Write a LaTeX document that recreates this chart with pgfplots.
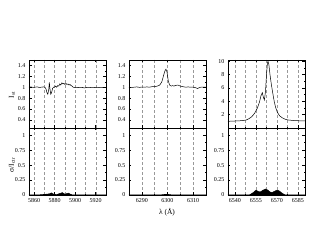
\documentclass[border=0pt]{standalone}
\usepackage{fontspec}
\setmainfont{Liberation Serif}
\usepackage{pgfplots}
\pgfplotsset{compat=1.18}
\pgfplotsset{
  panel/.style={
    scale only axis, width=77pt,
    axis line style={line width=0.8pt},
    tick align=inside, xtick pos=both, ytick pos=both,
    major tick length=2.5pt, minor tick length=1.3pt,
    every tick/.style={black, line width=0.5pt},
    xmajorgrids, xminorgrids,
    major grid style={densely dashed, gray!80, line width=0.35pt},
    minor grid style={densely dashed, gray!80, line width=0.35pt},
    tick label style={font=\fontsize{6}{7}\selectfont},
    /pgf/number format/assume math mode=true,
    /pgf/number format/1000 sep={},
    scaled ticks=false,
    minor y tick num=1,
  },
  toppanel/.style={panel, height=68pt, xticklabels={}},
  botpanel/.style={panel, height=67pt, ymin=0, ymax=1.12, ytick={0,0.25,0.5,0.75,1},
    yticklabels={0,0.25,0.5,0.75,1}},
  dat/.style={black, line width=0.5pt, mark=none},
}
\begin{document}
\begin{tikzpicture}[x=1pt,y=1pt]
\useasboundingbox (0,0) rectangle (317,245);
% ---------- panel 1 ----------
\begin{axis}[toppanel, at={(29pt,117pt)}, anchor=south west,
  xmin=5855, xmax=5930, ymin=0.25, ymax=1.5,
  xtick={5860,5880,5900,5920}, minor xtick={5870,5890,5910},
  ytick={0.4,0.6,0.8,1,1.2,1.4}]
\addplot[dat] coordinates {(5855,1.0)(5857,1.005)(5859,0.995)(5861,1.0)(5863,1.006)(5865,0.995)(5867,1.0)(5869,1.005)(5870.5,1.0)(5871.5,0.97)(5872.5,0.90)(5873.3,0.87)(5874.2,0.95)(5874.8,1.09)(5875.4,0.97)(5876.2,0.87)(5877,0.90)(5878,0.98)(5879,1.0)(5880,1.0)(5881,1.02)(5882,1.0)(5883,1.03)(5884,1.02)(5885,1.06)(5886,1.04)(5887,1.08)(5888,1.06)(5889,1.07)(5890,1.05)(5891,1.07)(5892,1.05)(5893,1.06)(5894,1.04)(5895,1.05)(5896,1.03)(5897,1.02)(5898,1.0)(5899,0.995)(5901,0.99)(5903,0.995)(5905,0.99)(5907,0.995)(5909,0.985)(5911,0.995)(5913,0.99)(5915,0.995)(5917,0.99)(5919,0.995)(5921,0.99)(5923,0.995)(5925,0.99)(5927,0.995)(5930,0.99)};
\end{axis}
\begin{axis}[botpanel, at={(29pt,50pt)}, anchor=south west,
  xmin=5855, xmax=5930,
  xtick={5860,5880,5900,5920}, minor xtick={5870,5890,5910}]
\addplot[dat, fill=black] coordinates {(5855,0)(5865,0.003)(5870,0.01)(5873,0.015)(5875,0.02)(5877,0.035)(5878,0.02)(5880,0.01)(5882,0.005)(5884,0.02)(5886,0.03)(5887.5,0.04)(5889,0.02)(5890.5,0.015)(5892,0.025)(5893.5,0.03)(5895,0.015)(5897,0.003)(5900,0)(5930,0)} \closedcycle;
\end{axis}
% ---------- panel 2 ----------
\begin{axis}[toppanel, at={(129pt,117pt)}, anchor=south west,
  xmin=6285, xmax=6315, ymin=0.25, ymax=1.5,
  xtick={6290,6300,6310}, minor xtick={6295,6305},
  ytick={0.4,0.6,0.8,1,1.2,1.4}]
\addplot[dat] coordinates {(6285,1.0)(6286,0.995)(6287,1.0)(6288,1.005)(6289,0.998)(6290,1.0)(6291,1.0)(6292,1.005)(6293,1.0)(6294,1.01)(6295,1.01)(6296,1.02)(6297,1.04)(6297.8,1.1)(6298.5,1.22)(6299,1.30)(6299.4,1.33)(6299.8,1.28)(6300.3,1.12)(6300.8,1.04)(6301.5,1.02)(6302,1.03)(6302.5,1.02)(6303,1.03)(6304,1.04)(6305,1.02)(6306,1.01)(6307,1.0)(6308,1.005)(6309,1.0)(6310,1.0)(6311,0.99)(6311.7,0.975)(6312.3,0.99)(6313,1.0)(6314,1.0)(6315,1.0)};
\end{axis}
\begin{axis}[botpanel, at={(129pt,50pt)}, anchor=south west,
  xmin=6285, xmax=6315,
  xtick={6290,6300,6310}, minor xtick={6295,6305}]
\addplot[dat, fill=black] coordinates {(6285,0)(6297,0)(6298,0.005)(6299.5,0.012)(6301,0.006)(6302,0)(6315,0)} \closedcycle;
\end{axis}
% ---------- panel 3 ----------
\begin{axis}[toppanel, at={(228pt,117pt)}, anchor=south west,
  xmin=6535, xmax=6590, ymin=0, ymax=10.2,
  xtick={6540,6555,6570,6585}, minor xtick={6547.5,6562.5,6577.5},
  ytick={2,4,6,8,10}]
\addplot[dat] coordinates {(6535,1.0)(6540,1.05)(6545,1.1)(6548,1.2)(6550,1.4)(6552,1.7)(6554,2.2)(6556,3.0)(6557.5,3.9)(6558.5,4.8)(6559.5,5.3)(6560.3,4.6)(6561,4.2)(6561.8,5.5)(6562.5,8)(6563.2,9.8)(6563.6,10.0)(6564.2,9.5)(6565,8.0)(6566,6.5)(6567,5.2)(6568,4.0)(6569,3.1)(6570,2.5)(6571,2.1)(6572,1.8)(6574,1.5)(6576,1.3)(6578,1.2)(6582,1.12)(6586,1.08)(6590,1.05)};
\end{axis}
\begin{axis}[botpanel, at={(228pt,50pt)}, anchor=south west,
  xmin=6535, xmax=6590,
  xtick={6540,6555,6570,6585}, minor xtick={6547.5,6562.5,6577.5}]
\addplot[dat, fill=black] coordinates {(6535,0)(6550,0)(6551,0.01)(6553,0.04)(6555,0.08)(6556.5,0.06)(6558,0.05)(6560,0.08)(6562,0.1)(6563.5,0.08)(6565,0.05)(6566.5,0.04)(6568,0.06)(6570,0.08)(6571.5,0.07)(6573,0.04)(6575,0.01)(6576,0)(6590,0)} \closedcycle;
\end{axis}
% ---------- labels ----------
\node[rotate=90, font=\fontsize{7.5}{8}\selectfont] at (12,150) {I\textsubscript{st}};
\node[rotate=90, font=\fontsize{7.5}{8}\selectfont] at (12,80) {σ/I\textsubscript{ctr}};
\node[font=\fontsize{7.5}{8}\selectfont] at (167,33) {λ (Å)};
\end{tikzpicture}
\end{document}
